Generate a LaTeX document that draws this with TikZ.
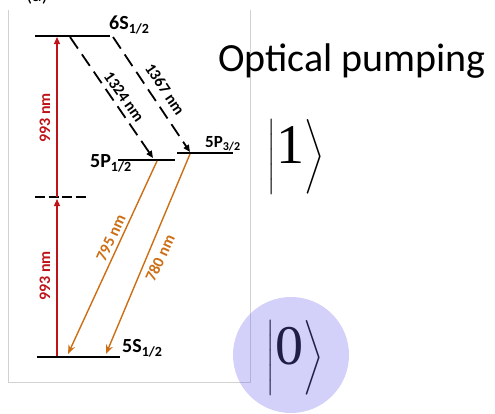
\documentclass[tikz,border=0pt]{standalone}
\usepackage{amsmath}
\usepackage{fontspec}
\setmainfont{Carlito}
\newfontfamily\ketfont{Liberation Serif}
\usetikzlibrary{arrows.meta}

\definecolor{pumpred}{RGB}{190,20,25}
\definecolor{decayorange}{RGB}{205,110,20}
\definecolor{ketfill}{RGB}{110,100,235}

\newcommand{\lvsub}[2][14]{\raisebox{-0.45ex}{\fontsize{#1}{#1}\selectfont#2}}
\newcommand{\ketof}[1]{$\left|\rule[-0.32em]{0pt}{1.14em}\mbox{#1}\right\rangle$}

\begin{document}
\begin{tikzpicture}[x=1pt,y=-1pt,
  level/.style={line width=2.8pt},
  lvllabel/.style={font=\bfseries\fontsize{20}{20}\selectfont,inner sep=0pt,anchor=base west},
  wavelen/.style={font=\bfseries\fontsize{16}{16}\selectfont,inner sep=0pt},
  pump/.style={draw=pumpred,line width=1.3pt,-{Triangle[length=7pt,width=6pt]}},
  relax/.style={draw=black,line width=1.8pt,dash pattern=on 14pt off 7pt,-{Triangle[length=7pt,width=6pt]}},
  decay/.style={draw=decayorange,line width=1.4pt,-{Stealth[length=9pt,width=7pt]}},
  ket/.style={font=\ketfont\fontsize{56}{56}\selectfont,inner sep=0pt}]
  \useasboundingbox (0,0) rectangle (495,413);

  % panel frame
  \draw[gray!35,line width=0.7pt] (8,10) -- (8,382) -- (250,382) -- (250,10);
  \node[font=\fontsize{20}{20}\selectfont,anchor=base,inner sep=0pt] (tag) at (37,1) {(a)};

  % levels
  \coordinate (s6a) at (35,36);   \coordinate (s6b) at (110,36);
  \coordinate (p1a) at (118,160); \coordinate (p1b) at (175,160);
  \coordinate (p3a) at (177,153); \coordinate (p3b) at (233,153);
  \coordinate (s5a) at (37,357);  \coordinate (s5b) at (120,357);
  \coordinate (vra) at (35,197);  \coordinate (vrb) at (86,197);
  \draw[level] (s6a) -- (s6b);
  \draw[level] (p1a) -- (p1b);
  \draw[level] (p3a) -- (p3b);
  \draw[level] (s5a) -- (s5b);
  \draw[level,dash pattern=on 10pt off 3.5pt] (vra) -- (vrb);

  \node[lvllabel] (l6s) at (109,29) {6S\lvsub{1/2}};
  \node[lvllabel] (l5p1) at (90,167) {5P\lvsub{1/2}};
  \node[lvllabel,font=\bfseries\fontsize{17}{17}\selectfont] (l5p3) at (205,147) {5P\lvsub[12]{3/2}};
  \node[lvllabel] (l5s) at (122,352) {5S\lvsub{1/2}};

  % two-photon excitation
  \coordinate (g) at (57,356);
  \coordinate (v) at (57,199);
  \coordinate (vs) at (57,197);
  \coordinate (e) at (57,37);
  \draw[pump] (g) -- (v);
  \draw[pump] (vs) -- (e);
  \node[wavelen,text=pumpred,rotate=90] (w1) at (45,118) {993 nm};
  \node[wavelen,text=pumpred,rotate=90] (w2) at (45,276) {993 nm};

  % cascade to 5P
  \coordinate (c1) at (70,37);  \coordinate (c1e) at (153,158);
  \coordinate (c2) at (113,37); \coordinate (c2e) at (190,152);
  \draw[relax] (c1) -- (c1e);
  \draw[relax] (c2) -- (c2e);
  \node[wavelen,rotate=-55] (w3) at (124,97) {1324 nm};
  \node[wavelen,rotate=-56] (w4) at (165,89) {1367 nm};

  % decay to ground
  \coordinate (d1) at (157,161); \coordinate (d1e) at (68,354);
  \coordinate (d2) at (190,154); \coordinate (d2e) at (106,354);
  \draw[decay] (d1) -- (d1e);
  \draw[decay] (d2) -- (d2e);
  \node[wavelen,text=decayorange,rotate=65] (w5) at (111,238) {795 nm};
  \node[wavelen,text=decayorange,rotate=65] (w6) at (160,258) {780 nm};

  % qubit states
  \node[font=\fontsize{40}{40}\selectfont,anchor=base,inner sep=0pt] (op) at (352,71) {Optical pumping};
  \node[ket] (k1) at (296,156) {\ketof{1}};
  \node[ket] (k0) at (295,357) {\ketof{0}};
  \fill[ketfill,fill opacity=0.3] (291,355) circle (58);
\end{tikzpicture}
\end{document}
